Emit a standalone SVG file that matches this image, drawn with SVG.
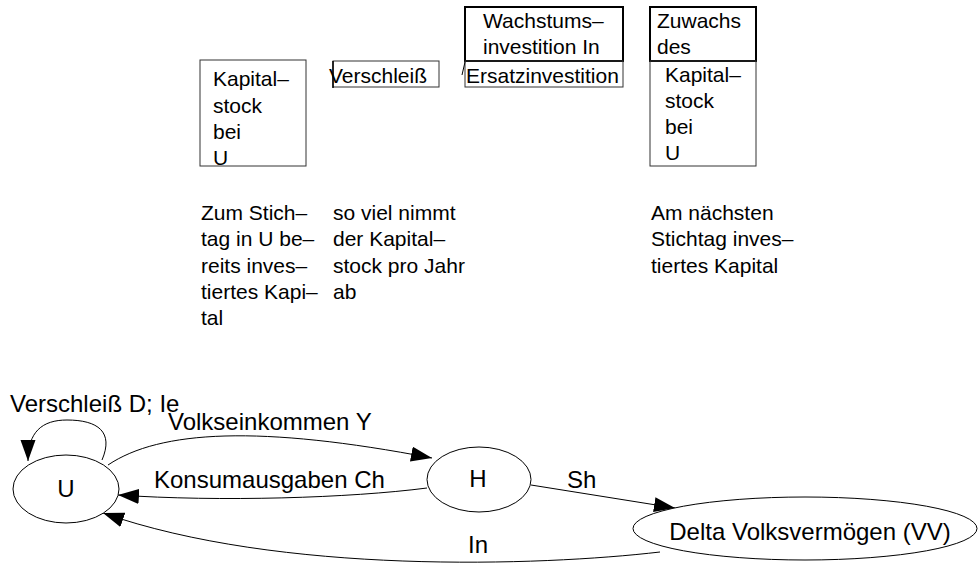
<svg xmlns="http://www.w3.org/2000/svg" width="979" height="564" viewBox="0 0 979 564">
<style>
text{font-family:"Liberation Sans",Arial,sans-serif;fill:#000}
.t{font-size:21px}
.b{font-size:24px}
.box{fill:none;stroke:#333;stroke-width:1}
.hbox{fill:none;stroke:#000;stroke-width:2}
.node{fill:#fff;stroke:#000;stroke-width:1}
.edge{fill:none;stroke:#000;stroke-width:1}
</style>
<defs>
<marker id="ah" markerUnits="userSpaceOnUse" markerWidth="22" markerHeight="16" refX="21" refY="7.5" orient="auto">
<path d="M0,0 L21,7.5 L0,15 z" fill="#000"/>
</marker>
</defs>
<rect width="979" height="564" fill="#fff"/>
<g id="kapitalstock">
<rect class="box" x="200" y="60" width="106" height="106"/>
<text class="t" x="213" y="86">Kapital–</text>
<text class="t" x="213" y="113">stock</text>
<text class="t" x="213" y="139">bei</text>
<text class="t" x="213" y="165">U</text>
</g>
<g id="verschleiss">
<rect class="box" x="333" y="61" width="106" height="26"/>
<line x1="333" y1="61" x2="333" y2="88" stroke="#000" stroke-width="1.5"/>
<text class="t" x="329" y="83">Verschleiß</text>
</g>
<g id="wachstum">
<rect class="hbox" x="465" y="7" width="158" height="54"/>
<text class="t" x="483" y="28">Wachstums–</text>
<text class="t" x="483" y="54">investition In</text>
</g>
<g id="ersatz">
<rect class="box" x="465" y="61" width="158" height="26"/>
<line x1="462" y1="75" x2="465" y2="62" stroke="#000" stroke-width="1"/>
<text class="t" x="466" y="83">Ersatzinvestition</text>
</g>
<g id="zuwachs">
<rect class="hbox" x="650" y="7" width="106" height="54"/>
<text class="t" x="657" y="28">Zuwachs</text>
<text class="t" x="657" y="54">des</text>
</g>
<g id="kapitalstock2">
<rect class="box" x="650" y="61" width="106" height="105"/>
<text class="t" x="665" y="82">Kapital–</text>
<text class="t" x="665" y="108">stock</text>
<text class="t" x="665" y="134">bei</text>
<text class="t" x="665" y="160">U</text>
</g>
<g id="note1">
<text class="t" x="201" y="220">Zum Stich–</text>
<text class="t" x="201" y="246">tag in U be–</text>
<text class="t" x="201" y="273">reits inves–</text>
<text class="t" x="201" y="299">tiertes Kapi–</text>
<text class="t" x="201" y="325">tal</text>
</g>
<g id="note2">
<text class="t" x="333" y="220">so viel nimmt</text>
<text class="t" x="333" y="246">der Kapital–</text>
<text class="t" x="333" y="273">stock pro Jahr</text>
<text class="t" x="333" y="299">ab</text>
</g>
<g id="note3">
<text class="t" x="651" y="220">Am nächsten</text>
<text class="t" x="651" y="246">Stichtag inves–</text>
<text class="t" x="651" y="273">tiertes Kapital</text>
</g>
<g id="connectors">
<path class="edge" d="M102,460 C114,432 98,420 67,420 C42,420 28,432 28,461" marker-end="url(#ah)"/>
<path class="edge" d="M108,465 C160,430 260,425 432,458" marker-end="url(#ah)"/>
<path class="edge" d="M427,488 C350,498 220,502 118,495" marker-end="url(#ah)"/>
<path class="edge" d="M531,485 L675,508" marker-end="url(#ah)"/>
<path class="edge" d="M660,552 C540,566 280,575 103,513" marker-end="url(#ah)"/>
<text class="b" x="10" y="412">Verschleiß D; Ie</text>
<text class="b" x="168" y="430">Volkseinkommen Y</text>
<text class="b" x="154" y="488">Konsumausgaben Ch</text>
<text class="b" x="567" y="488">Sh</text>
<text class="b" x="468" y="553">In</text>
</g>
<g id="U">
<ellipse class="node" cx="66" cy="489" rx="53" ry="34"/>
<text class="b" x="66" y="497" text-anchor="middle">U</text>
</g>
<g id="H">
<ellipse class="node" cx="479" cy="479.5" rx="52" ry="32.5"/>
<text class="b" x="478" y="487" text-anchor="middle">H</text>
</g>
<g id="VV">
<ellipse class="node" cx="805" cy="528.5" rx="172" ry="31.5"/>
<text class="b" x="810" y="540" text-anchor="middle">Delta Volksvermögen (VV)</text>
</g>
</svg>
